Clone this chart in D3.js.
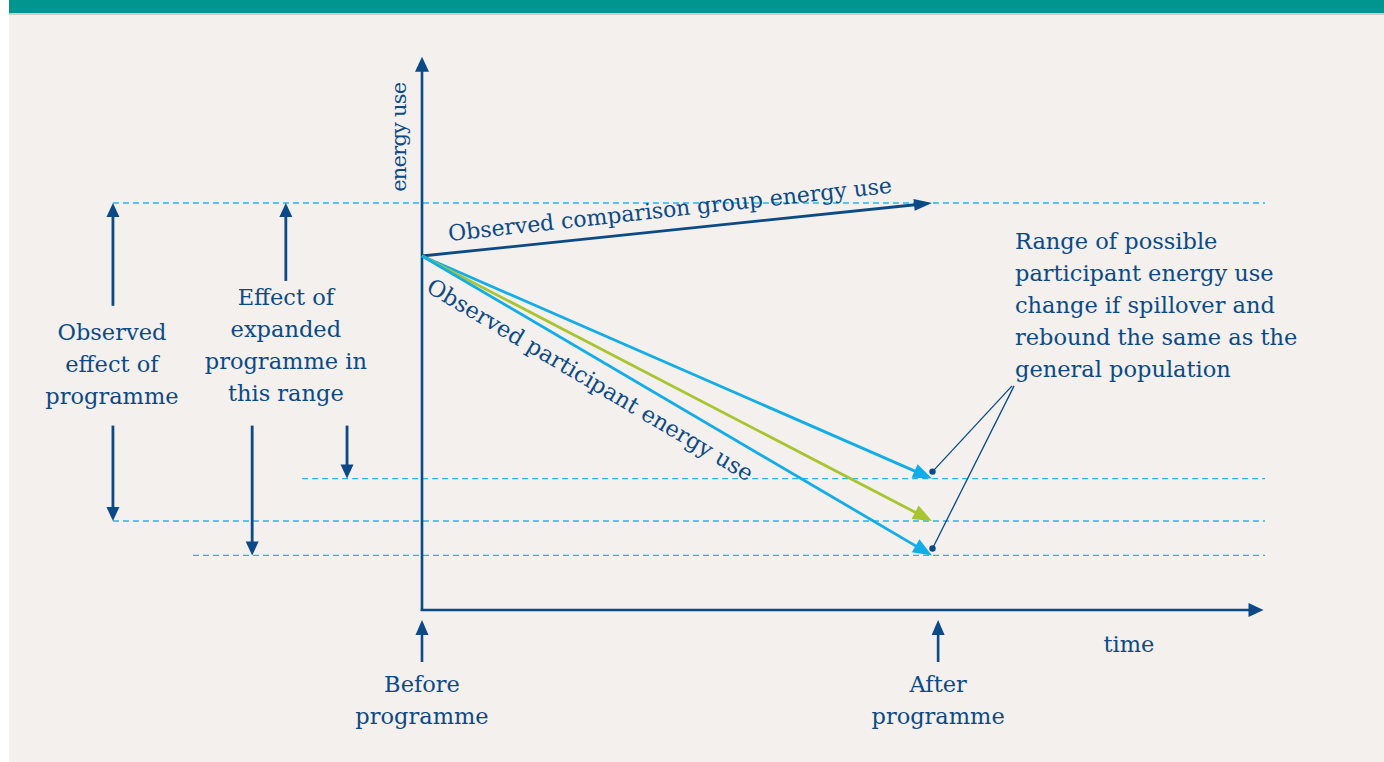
<!DOCTYPE html>
<html lang="en">
  <head>
    <meta charset="UTF-8" />
    <title>Programme effect diagram</title>
    <style>
      html, body { margin: 0; padding: 0; background: #ffffff; }
      #chart { display: block; }
    </style>
  </head>
  <body>
    <svg id="chart" width="1384" height="762"></svg>

    <script src="https://cdnjs.cloudflare.com/ajax/libs/d3/7.8.5/d3.min.js"></script>
    <script>
      // time: 0 = before programme, 1 = after programme
      // energy: relative energy use, 100 at the start
      const startEnergy = 100;
      const comparisonEnd = 110;
      const participantEnds = [58, 50, 43.5]; // high, observed, low
      const participantColors = ["#12ade9", "#a8c42f", "#12ade9"];

      const axisTime = [0, 1.65];
      const axisEnergy = [33.2, 137.6];

      // reference levels drawn as dashed lines [start time, energy]
      const refLines = [
        [-0.606, 110],
        [-0.235, 58],
        [-0.606, 50],
        [-0.449, 43.5]
      ];
      const refEnd = 1.653;

      // vertical measurement arrows [time, from energy, to energy]
      const measureArrows = [
        [-0.606, 90.6, 110],
        [-0.606, 68, 50],
        [-0.267, 95.3, 110],
        [-0.333, 68, 43.5],
        [-0.147, 68, 58]
      ];

      const timeMarkers = ["Before programme", "After programme"];
      const markerTimes = [0, 1.012];

      const leftLabel = ["Observed", "effect of", "programme"];
      const midLabel = ["Effect of", "expanded", "programme in", "this range"];
      const rangeLabel = [
        "Range of possible",
        "participant energy use",
        "change if spillover and",
        "rebound the same as the",
        "general population"
      ];
      // where the callout lines leave the range label [time, energy]
      const calloutFrom = [[1.157, 75.5], [1.161, 75.5]];

      const dark = "#0b4a86";
      const dash = "#27b3ee";
      const font = "DejaVu Serif";
      const fontSize = 22.5;

      const svg = d3.select("#chart");
      const width = 1384, height = 762;

      // page background + header band
      svg.append("rect").attr("x", 9).attr("y", 0).attr("width", width - 9).attr("height", height).attr("fill", "#f3f0ed");
      svg.append("rect").attr("x", 9).attr("y", 0).attr("width", width - 9).attr("height", 13).attr("fill", "#00958e");
      svg.append("rect").attr("x", 9).attr("y", 13).attr("width", width - 9).attr("height", 2).attr("fill", "#d6c8be");

      const x = d3.scaleLinear().domain([0, 1]).range([422, 932]);
      const y = d3.scaleLinear().domain([100, 110]).range([256, 203]);

      // straight arrow with a filled triangular head
      function arrow(g, x1, y1, x2, y2, color, w, headLen, headW) {
        const a = Math.atan2(y2 - y1, x2 - x1);
        const bx = x2 - headLen * Math.cos(a), by = y2 - headLen * Math.sin(a);
        g.append("line")
          .attr("x1", x1).attr("y1", y1)
          .attr("x2", bx + 1 * Math.cos(a)).attr("y2", by + 1 * Math.sin(a))
          .attr("stroke", color).attr("stroke-width", w);
        const px = -Math.sin(a) * headW / 2, py = Math.cos(a) * headW / 2;
        g.append("path")
          .attr("d", `M${x2},${y2}L${bx + px},${by + py}L${bx - px},${by - py}Z`)
          .attr("fill", color);
      }

      const g = svg.append("g");

      // dashed reference levels
      g.selectAll("line.ref")
        .data(refLines)
        .enter()
        .append("line")
        .attr("class", "ref")
        .attr("x1", (d) => x(d[0]))
        .attr("x2", x(refEnd))
        .attr("y1", (d) => y(d[1]))
        .attr("y2", (d) => y(d[1]))
        .attr("stroke", dash)
        .attr("stroke-width", 1.3)
        .attr("stroke-dasharray", "6,4");

      // axes
      arrow(g, x(0), y(axisEnergy[0]) + 1, x(0), y(axisEnergy[1]), dark, 2.6, 15, 14);
      arrow(g, x(0) - 1.3, y(axisEnergy[0]), x(axisTime[1]), y(axisEnergy[0]), dark, 2.6, 15, 14);

      // comparison group
      arrow(g, x(0), y(startEnergy), x(1), y(comparisonEnd), dark, 2.8, 18, 12);

      // participant range
      participantEnds.forEach((v, i) => {
        arrow(g, x(0), y(startEnergy), x(1), y(v), participantColors[i], 2.8, 19, 15);
      });

      // measurement arrows
      measureArrows.forEach((d) => {
        arrow(g, x(d[0]), y(d[1]), x(d[0]), y(d[2]), dark, 2.8, 14, 13);
      });

      // time markers
      markerTimes.forEach((t) => {
        arrow(g, x(t), 662, x(t), 620, dark, 2.6, 15, 13);
      });

      // callout lines from the range label
      [participantEnds[0], participantEnds[2]].forEach((v, i) => {
        const px = x(1.001), py = y(v) - 7;
        g.append("line")
          .attr("x1", x(calloutFrom[i][0])).attr("y1", y(calloutFrom[i][1]))
          .attr("x2", px).attr("y2", py)
          .attr("stroke", dark).attr("stroke-width", 1.3);
        g.append("circle").attr("cx", px).attr("cy", py).attr("r", 3.2).attr("fill", dark);
      });

      const txt = (s, tx, ty, anchor) =>
        g.append("text")
          .attr("x", tx).attr("y", ty)
          .attr("text-anchor", anchor || "middle")
          .attr("font-family", font)
          .attr("font-size", fontSize)
          .attr("fill", dark)
          .text(s);

      // axis labels
      txt("energy use", 0, 0)
        .attr("font-size", 21)
        .attr("letter-spacing", -0.8)
        .attr("transform", `translate(406,${y(122.4)}) rotate(-90)`);
      txt("time", 1129, 652);

      // labels along the lines
      const angC = Math.atan2(y(comparisonEnd) - y(startEnergy), x(1) - x(0)) * 180 / Math.PI;
      txt("Observed comparison group energy use", 0, 0, "start")
        .attr("font-size", 22)
        .attr("transform", `translate(449,241) rotate(${angC - 0.3})`);
      const angP = Math.atan2(y(participantEnds[2]) - y(startEnergy), x(1) - x(0)) * 180 / Math.PI;
      txt("Observed participant energy use", 0, 0, "start")
        .attr("transform", `translate(425,291) rotate(${angP + 0.2})`);

      leftLabel.forEach((s, i) => txt(s, x(-0.608), 340 + i * 32));
      midLabel.forEach((s, i) => txt(s, x(-0.267), 305 + i * 32));
      rangeLabel.forEach((s, i) => txt(s, 1015, 249 + i * 32, "start"));
      timeMarkers.forEach((s, i) => {
        const parts = s.split(" ");
        parts.forEach((p, j) => txt(p, x(markerTimes[i]), 692 + j * 32));
      });
    </script>
  </body>
</html>
